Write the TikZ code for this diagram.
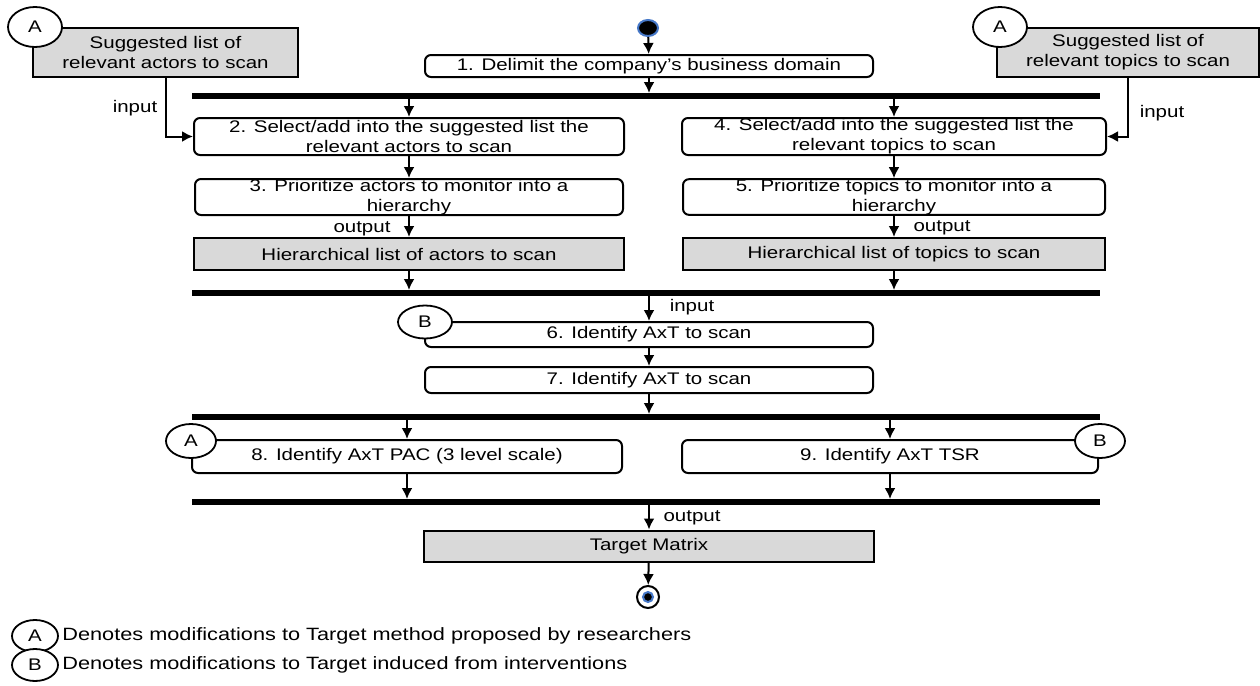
\documentclass[tikz,border=0pt]{standalone}
\usepackage{fontspec}
\setmainfont{Liberation Sans}[FakeStretch=1.22]
\usetikzlibrary{arrows.meta,positioning,shapes.geometric}
\definecolor{boxgray}{RGB}{217,217,217}
\definecolor{glow}{RGB}{70,120,200}

\begin{document}
\begin{tikzpicture}[x=0.5pt,y=-0.5pt,
  every node/.style={font=\fontsize{8.4}{10}\selectfont},
  actbox/.style={draw, line width=1pt, rounded corners=3pt, fill=white, align=center, inner sep=0pt},
  databox/.style={draw, line width=1pt, fill=boxgray, align=center, inner sep=0pt},
  syncbar/.style={fill=black, inner sep=0pt, minimum width=454pt, minimum height=2.6pt},
  marker/.style={ellipse, draw, line width=0.9pt, fill=white, inner sep=0pt},
  flow/.style={line width=1pt, -{Latex[length=5.5pt,width=5.5pt]}},
  tag/.style={inner sep=0pt},
  legendtext/.style={inner sep=0pt, anchor=west, font=\fontsize{8.9}{10}\selectfont}]

\useasboundingbox (0,0) rectangle (1260,686);

% start and first activity
\node[ellipse, fill=black, draw=glow, line width=1pt, minimum width=10pt, minimum height=8pt, inner sep=0pt] (start) at (648,28) {};
\node[actbox, minimum width=224pt, minimum height=11pt] (s1) at (649,66) {1. Delimit the company's business domain};
\node[syncbar] (bar1) at (646,96) {};

% actors branch
\node[actbox, minimum width=215pt, minimum height=18.5pt] (s2) at (409,136.5) {2. Select/add into the suggested list the\\relevant actors to scan};
\node[actbox, minimum width=214pt, minimum height=18pt] (s3) at (409,197) {3. Prioritize actors to monitor into a\\hierarchy};
\node[databox, minimum width=215pt, minimum height=16pt] (h1) at (409,254) {Hierarchical list of actors to scan};

% topics branch
\node[actbox, minimum width=212pt, minimum height=18.5pt] (s4) at (894,136.5) {4. Select/add into the suggested list the\\relevant topics to scan};
\node[actbox, minimum width=211pt, minimum height=17pt] (s5) at (894,197) {5. Prioritize topics to monitor into a\\hierarchy};
\node[databox, minimum width=211pt, minimum height=16pt] (h2) at (894,254) {Hierarchical list of topics to scan};

% suggested lists
\node[databox, minimum width=132.5pt, minimum height=24.5pt] (sugA) at (165.5,52.5) {Suggested list of\\relevant actors to scan};
\node[databox, minimum width=131pt, minimum height=24.5pt] (sugT) at (1128,52.5) {Suggested list of\\relevant topics to scan};
\node[marker, minimum width=27pt, minimum height=20pt] (mA1) at (35,27) {A};
\node[marker, minimum width=27pt, minimum height=20pt] (mA2) at (1000,27) {A};

\node[syncbar] (bar2) at (646,293) {};

% AxT
\node[actbox, minimum width=224pt, minimum height=12.5pt] (s6) at (649,334.5) {6. Identify AxT to scan};
\node[marker, minimum width=27pt, minimum height=16.5pt] (mB1) at (425,322) {B};
\node[actbox, minimum width=224pt, minimum height=13pt] (s7) at (649,380) {7. Identify AxT to scan};
\node[syncbar] (bar3) at (646,417) {};

\node[actbox, minimum width=215pt, minimum height=16.5pt] (s8) at (407,456.5) {8. Identify AxT PAC (3 level scale)};
\node[actbox, minimum width=208pt, minimum height=16.5pt] (s9) at (890,456.5) {9. Identify AxT TSR};
\node[marker, minimum width=25pt, minimum height=17pt] (mA3) at (191,441) {A};
\node[marker, minimum width=25pt, minimum height=17pt] (mB2) at (1100,441) {B};
\node[syncbar] (bar4) at (646,502) {};

% result and end
\node[databox, minimum width=225pt, minimum height=15.5pt] (tm) at (649,546) {Target Matrix};
\node[circle, draw, line width=1pt, fill=white, minimum size=11pt, inner sep=0pt] (end) at (648,597) {};
\node[circle, fill=black, draw=glow, line width=1pt, minimum size=5pt, inner sep=0pt] (endin) at (end.center) {};

% flows
\draw[flow] (start) -- (s1);
\draw[flow] (s1) -- (s1 |- bar1.north);
\draw[flow] (bar1.south -| s2) -- (s2);
\draw[flow] (bar1.south -| s4) -- (s4);
\draw[flow] (s2) -- (s3);
\draw[flow] (s4) -- (s5);
\draw[flow] (s3) -- (h1);
\draw[flow] (s5) -- (h2);
\draw[flow] (h1) -- (h1 |- bar2.north);
\draw[flow] (h2) -- (h2 |- bar2.north);
\draw[flow] (sugA.south) |- (s2.west);
\draw[flow] (sugT.south) |- (s4.east);
\draw[flow] (bar2.south -| s6) -- (s6);
\draw[flow] (s6) -- (s7);
\draw[flow] (s7) -- (s7 |- bar3.north);
\draw[flow] (bar3.south -| s8) -- (s8);
\draw[flow] (bar3.south -| s9) -- (s9);
\draw[flow] (s8) -- (s8 |- bar4.north);
\draw[flow] (s9) -- (s9 |- bar4.north);
\draw[flow] (bar4.south -| tm) -- (tm);
\draw[flow] (tm) -- (end);

% flow labels
\node[tag] (inA) at (135,108) {input};
\node[tag] (inT) at (1162,113) {input};
\node[tag] (outA) at (362,229) {output};
\node[tag] (outT) at (942,228) {output};
\node[tag] (inAxT) at (692,307) {input};
\node[tag] (outTm) at (692,518) {output};

% legend
\node[marker, minimum width=23pt, minimum height=16pt] (lA) at (35,636) {A};
\node[legendtext] (lAtxt) at (62,636) {Denotes modifications to Target method proposed by researchers};
\node[marker, minimum width=23pt, minimum height=16pt] (lB) at (35,665) {B};
\node[legendtext] (lBtxt) at (62,665) {Denotes modifications to Target induced from interventions};

\end{tikzpicture}
\end{document}
